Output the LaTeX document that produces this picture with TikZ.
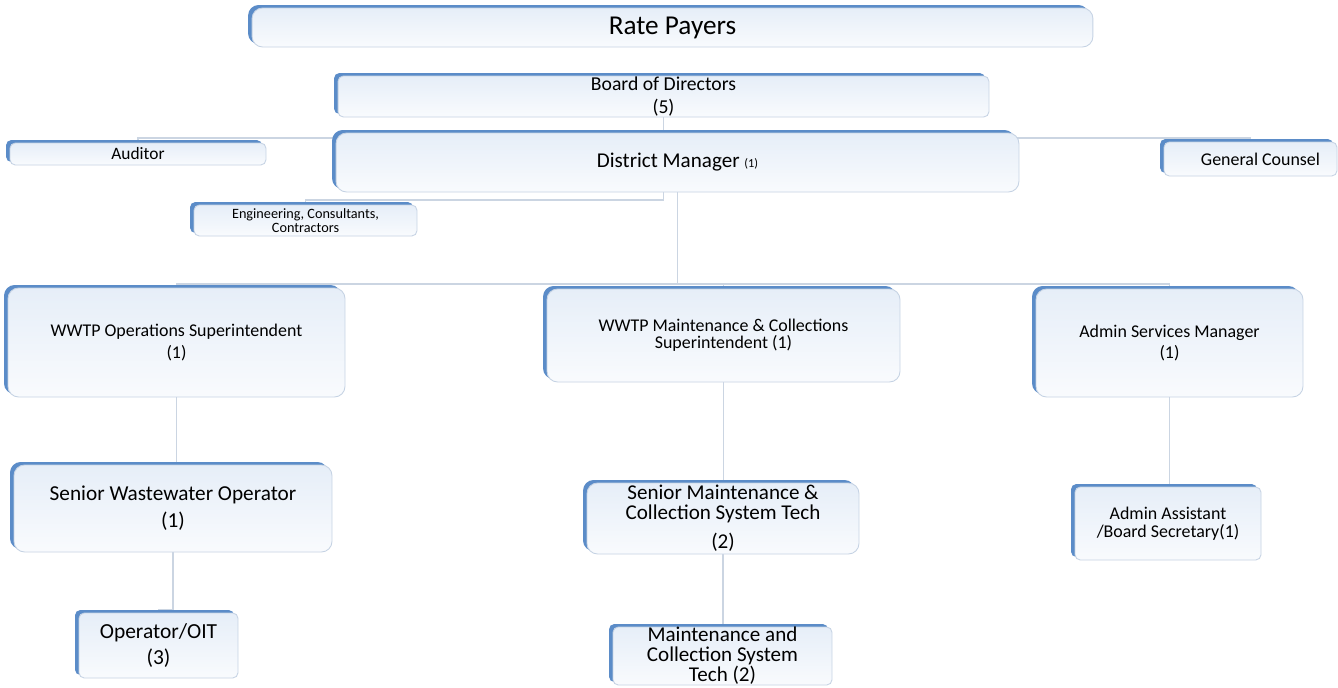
\documentclass[tikz,border=0pt]{standalone}
\usepackage{fontspec}
\setmainfont{Carlito}
\usetikzlibrary{positioning, shadows, backgrounds}
\definecolor{accent}{HTML}{5B8CC8}
\definecolor{boxtop}{HTML}{E6EEF8}
\definecolor{edge}{HTML}{C6D3E4}
\definecolor{linkc}{HTML}{CBD5E2}

\begin{document}
\begin{tikzpicture}[
      x=0.02cm, y=-0.02cm,
      box/.style={rectangle, draw=edge, line width=0.5pt, rounded corners=3pt,
                  top color=boxtop, bottom color=white!75!boxtop,
                  general shadow={fill=accent, shadow xshift=-0.08cm, shadow yshift=0.06cm},
                  inner sep=0pt, align=center, text=black},
      bigbox/.style={box, rounded corners=6pt},
      link/.style={draw=linkc, line width=0.6pt}
    ]
    \useasboundingbox (0,0) rectangle (1338,687);

    \node[bigbox, minimum width=16.82cm, minimum height=0.78cm, font=\fontsize{15.5}{18}\selectfont] (rate) at (672.5,27.5) {Rate Payers};
    \node[box, minimum width=13.02cm, minimum height=0.82cm, font=\fontsize{11.2}{13.6}\selectfont] (board) at (663.5,96.5) {Board of Directors\\(5)};
    \node[box, minimum width=5.12cm, minimum height=0.44cm, font=\fontsize{9.9}{12}\selectfont] (auditor) at (138,154) {Auditor};
    \node[bigbox, minimum width=13.66cm, minimum height=1.18cm, font=\fontsize{12}{14}\selectfont] (dm) at (677.5,162.5) {District Manager {\fontsize{7}{8}\selectfont (1)}};
    \node[box, minimum width=3.46cm, minimum height=0.68cm, font=\fontsize{10.2}{12}\selectfont] (gc) at (1250.5,159) {\hspace*{0.4cm}General Counsel};
    \node[box, minimum width=4.46cm, minimum height=0.62cm, font=\fontsize{8.1}{7.6}\selectfont] (eng) at (305.5,220.5) {Engineering, Consultants,\\Contractors};

    \node[bigbox, minimum width=6.74cm, minimum height=2.18cm, font=\fontsize{10.2}{12.4}\selectfont] (ops) at (176.5,342.5) {WWTP Operations Superintendent\\(1)};
    \node[bigbox, minimum width=7.06cm, minimum height=1.86cm, font=\fontsize{10.2}{9.8}\selectfont] (maint) at (723.5,335.5) {WWTP Maintenance \& Collections\\Superintendent (1)};
    \node[bigbox, minimum width=5.34cm, minimum height=2.16cm, font=\fontsize{10.2}{12.4}\selectfont] (admin) at (1169.5,343) {Admin Services Manager\\(1)};

    \node[bigbox, minimum width=6.36cm, minimum height=1.74cm, font=\fontsize{12.1}{15.3}\selectfont] (sww) at (173,508.5) {Senior Wastewater Operator\\(1)};
    \node[bigbox, minimum width=5.44cm, minimum height=1.42cm, font=\fontsize{12}{11.4}\selectfont] (smaint) at (723,518.5) {Senior Maintenance \&\\Collection System Tech\\[5pt](2)};
    \node[box, minimum width=3.72cm, minimum height=1.46cm, font=\fontsize{10.2}{10.2}\selectfont] (asst) at (1168,523.5) {Admin Assistant\\/Board Secretary(1)};

    \node[box, minimum width=3.18cm, minimum height=1.30cm, font=\fontsize{12.2}{15.3}\selectfont] (oit) at (158.5,645.5) {Operator/OIT\\(3)};
    \node[box, minimum width=4.38cm, minimum height=1.16cm, font=\fontsize{12}{11.4}\selectfont] (mtech) at (722.5,656) {Maintenance and\\Collection System\\Tech (2)};

    \begin{scope}[on background layer]
      \fill[white] (0,0) rectangle (1338,687);
      \draw[link] (board.south) -- (board.south |- 0,200) -| (eng.north);
      \draw[link] (auditor.north) |- (board.south |- 0,138) -| (gc.north);
      \coordinate (bus) at (dm.south |- 0,284);
      \draw[link] (dm.south) -- (bus);
      \draw[link] (ops.north) |- (bus) -| (admin.north);
      \draw[link] (bus) -| (maint.north);
      \draw[link] (ops.south) -- (ops.south |- sww.north);
      \draw[link] (sww.south) |- ([yshift=0.06cm]oit.north) -- (oit.north);
      \draw[link] (maint.south) -- (maint.south |- smaint.north);
      \draw[link] (smaint.south) -- (smaint.south |- mtech.north);
      \draw[link] (admin.south) -- (admin.south |- asst.north);
    \end{scope}
  \end{tikzpicture}
\end{document}
